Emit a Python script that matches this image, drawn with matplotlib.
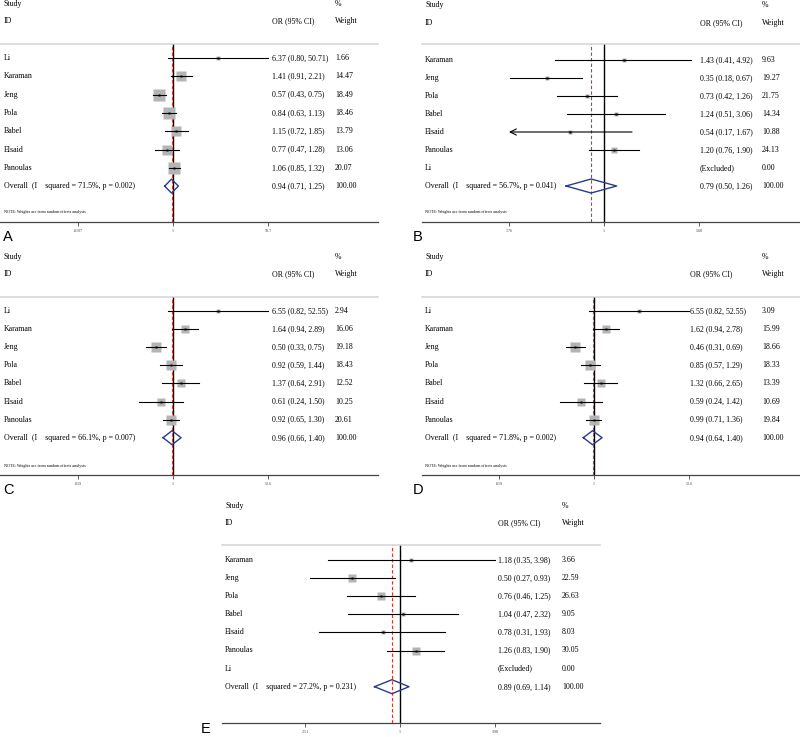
import numpy as np
import matplotlib
matplotlib.use("Agg")
import matplotlib.pyplot as plt
from matplotlib.transforms import blended_transform_factory

plt.rcParams['font.family'] = ['Liberation Serif', 'DejaVu Serif']

# ---- data ----
studies_a = ['Li', 'Karaman', 'Jeng', 'Pola', 'Babel', 'Elsaid', 'Panoulas']
or_a = [6.37, 1.41, 0.57, 0.84, 1.15, 0.77, 1.06]
lo_a = [0.80, 0.91, 0.43, 0.63, 0.72, 0.47, 0.85]
hi_a = [50.71, 2.21, 0.75, 1.13, 1.85, 1.28, 1.32]
w_a = [1.66, 14.47, 18.49, 18.46, 13.79, 13.06, 20.07]
overall_a = (0.94, 0.71, 1.25, '71.5%', '0.002')

studies_b = ['Karaman', 'Jeng', 'Pola', 'Babel', 'Elsaid', 'Panoulas', 'Li']
or_b = [1.43, 0.35, 0.73, 1.24, 0.54, 1.20, None]
lo_b = [0.41, 0.18, 0.42, 0.51, 0.17, 0.76, None]
hi_b = [4.92, 0.67, 1.26, 3.06, 1.67, 1.90, None]
w_b = [9.63, 19.27, 21.75, 14.34, 10.88, 24.13, 0.00]
overall_b = (0.79, 0.50, 1.26, '56.7%', '0.041')

studies_c = ['Li', 'Karaman', 'Jeng', 'Pola', 'Babel', 'Elsaid', 'Panoulas']
or_c = [6.55, 1.64, 0.50, 0.92, 1.37, 0.61, 0.92]
lo_c = [0.82, 0.94, 0.33, 0.59, 0.64, 0.24, 0.65]
hi_c = [52.55, 2.89, 0.75, 1.44, 2.91, 1.50, 1.30]
w_c = [2.94, 16.06, 19.18, 18.43, 12.52, 10.25, 20.61]
overall_c = (0.96, 0.66, 1.40, '66.1%', '0.007')

studies_d = ['Li', 'Karaman', 'Jeng', 'Pola', 'Babel', 'Elsaid', 'Panoulas']
or_d = [6.55, 1.62, 0.46, 0.85, 1.32, 0.59, 0.99]
lo_d = [0.82, 0.94, 0.31, 0.57, 0.66, 0.24, 0.71]
hi_d = [52.55, 2.78, 0.69, 1.29, 2.65, 1.42, 1.36]
w_d = [3.09, 15.99, 18.66, 18.33, 13.39, 10.69, 19.84]
overall_d = (0.94, 0.64, 1.40, '71.8%', '0.002')

studies_e = ['Karaman', 'Jeng', 'Pola', 'Babel', 'Elsaid', 'Panoulas', 'Li']
or_e = [1.18, 0.50, 0.76, 1.04, 0.78, 1.26, None]
lo_e = [0.35, 0.27, 0.46, 0.47, 0.31, 0.83, None]
hi_e = [3.98, 0.93, 1.25, 2.32, 1.93, 1.90, None]
w_e = [3.66, 22.59, 26.63, 9.05, 8.03, 30.05, 0.00]
overall_e = (0.89, 0.69, 1.14, '27.2%', '0.231')

ticks_a = (0.0197, '.0197', 50.7, '50.7')
ticks_b = (0.176, '.176', 5.68, '5.68')
ticks_c = (0.019, '.019', 52.6, '52.6')
ticks_d = (0.019, '.019', 52.6, '52.6')
ticks_e = (0.251, '.251', 3.98, '3.98')

W, H = 800, 737
fig = plt.figure(figsize=(W / 100, H / 100), dpi=100)

GRAY = '#b4b4b4'
NAVY = '#2b3a8e'
RED = '#d8342c'
FS = 5.7


def panel(studies, ors, los, his, ws, overall, ticks, lay):
    left, right, top, bottom = lay['left'], lay['right'], lay['top'], lay['bottom']
    ax = fig.add_axes([left / W, 1 - bottom / H, (right - left) / W, (bottom - top) / H])
    lo_t, lo_lab, hi_t, hi_lab = ticks
    null = lay['null']
    ppd = 95 / np.log10(hi_t)
    ax.set_xscale('log')
    ax.set_xlim(10 ** (-(null - left) / ppd), 10 ** ((right - null) / ppd))
    ax.set_ylim(bottom, top)

    for s in ['left', 'right']:
        ax.spines[s].set_visible(False)
    ax.spines['top'].set_color('#d4d4d4')
    ax.spines['top'].set_linewidth(1.1)
    ax.spines['bottom'].set_color('#444444')
    ax.spines['bottom'].set_linewidth(0.9)
    ax.set_yticks([])
    ax.minorticks_off()
    ax.set_xticks([lo_t, 1, hi_t])
    ax.set_xticklabels([lo_lab, '1', hi_lab])
    ax.tick_params(axis='x', which='major', length=3, width=0.6, color='#444444',
                   labelsize=3, pad=2, labelcolor='#444444')
    ax.tick_params(axis='x', which='minor', length=0)

    tr = blended_transform_factory(ax.transAxes, ax.transData)

    def fx(px):
        return (px - left) / (right - left)

    # null line and overall line
    ax.axvline(1, color='black', lw=1.0, zorder=2)
    ax.axvline(overall[0], color=RED, lw=0.8, ls=(0, (3, 2)), zorder=3)

    k = lay['box']
    n = len(studies)
    for i in range(n):
        y = lay['row0'] + i * lay['rowh']
        ax.text(fx(lay['tx']), y, studies[i], transform=tr, fontsize=FS, va='center', clip_on=False)
        ax.text(fx(lay['ox']), y,
                '(Excluded)' if ors[i] is None else '%.2f (%.2f, %.2f)' % (ors[i], los[i], his[i]),
                transform=tr, fontsize=FS, va='center', clip_on=False)
        ax.text(fx(lay['wx']), y, '%.2f' % ws[i], transform=tr, fontsize=FS, va='center', clip_on=False)
        if ors[i] is None:
            continue
        side = k * np.sqrt(ws[i])
        ax.plot([ors[i]], [y], marker='s', ms=side * 0.72, color=GRAY, mec='none', zorder=4)
        upper = min(his[i], hi_t)
        if los[i] < lo_t:
            ax.annotate('', xy=(lo_t, y), xytext=(upper, y),
                        arrowprops=dict(arrowstyle='->', lw=0.8, color='black',
                                        mutation_scale=11, shrinkA=0, shrinkB=0), zorder=5)
        else:
            ax.plot([los[i], upper], [y, y], color='black', lw=0.8, zorder=5)
        ax.plot([ors[i]], [y], marker='s', ms=2.0, color='black', mec='none', zorder=6)

    # overall diamond
    y = lay['row0'] + n * lay['rowh']
    est, lo, hi, isq, p = overall
    ax.plot([lo, est, hi, est, lo], [y, y - 7, y, y + 7, y], color=NAVY, lw=1.0, zorder=6)
    ax.text(fx(lay['tx']), y, 'Overall  (I    squared = %s, p = %s)' % (isq, p),
            transform=tr, fontsize=FS, va='center', clip_on=False)
    ax.text(fx(lay['ox']), y, '%.2f (%.2f, %.2f)' % (est, lo, hi),
            transform=tr, fontsize=FS, va='center', clip_on=False)
    ax.text(fx(lay['wx']), y, '100.00', transform=tr, fontsize=FS, va='center', clip_on=False)

    # headers
    hy1, hy2 = lay['hy']
    ax.text(fx(lay['tx']), hy1, 'Study', transform=tr, fontsize=FS, va='center', clip_on=False)
    ax.text(fx(lay['wx']), hy1, '%', transform=tr, fontsize=FS, va='center', clip_on=False)
    ax.text(fx(lay['tx']), hy2, 'ID', transform=tr, fontsize=FS, va='center', clip_on=False)
    ax.text(fx(lay['ox']), hy2, 'OR (95% CI)', transform=tr, fontsize=FS, va='center', clip_on=False)
    ax.text(fx(lay['wx']), hy2, 'Weight', transform=tr, fontsize=FS, va='center', clip_on=False)
    if lay.get('note') is not None:
        ax.text(fx(lay['tx']), lay['note'], 'NOTE: Weights are from random effects analysis',
                transform=tr, fontsize=3.0, va='center', clip_on=False)

    fig.text(lay['lx'] / W, 1 - lay['ly'] / H, lay['letter'], fontsize=10.5,
             family='Liberation Sans', ha='center', va='center')


lay_a = dict(left=0, right=378, top=44, bottom=222, null=173, row0=58, rowh=18.3,
             tx=4, ox=272, wx=335, hy=(4, 21), note=212, box=2.7, letter='A', lx=8, ly=237)
lay_b = dict(left=422, right=800, top=44, bottom=222, null=604, row0=60, rowh=18.0,
             tx=425, ox=700, wx=762, hy=(5, 23), note=212, box=1.05, letter='B', lx=418, ly=237)
lay_c = dict(left=0, right=378, top=297, bottom=475, null=173, row0=311, rowh=18.1,
             tx=4, ox=272, wx=335, hy=(257, 274), note=466, box=2.2, letter='C', lx=8, ly=490)
lay_d = dict(left=422, right=800, top=297, bottom=475, null=594, row0=311, rowh=18.1,
             tx=425, ox=690, wx=762, hy=(257, 274), note=466, box=2.2, letter='D', lx=418, ly=490)
lay_e = dict(left=222, right=600, top=545, bottom=723, null=400, row0=560, rowh=18.1,
             tx=225, ox=498, wx=562, hy=(506, 523), note=None, box=1.6, letter='E', lx=206, ly=729)

panel(studies_a, or_a, lo_a, hi_a, w_a, overall_a, ticks_a, lay_a)
panel(studies_b, or_b, lo_b, hi_b, w_b, overall_b, ticks_b, lay_b)
panel(studies_c, or_c, lo_c, hi_c, w_c, overall_c, ticks_c, lay_c)
panel(studies_d, or_d, lo_d, hi_d, w_d, overall_d, ticks_d, lay_d)
panel(studies_e, or_e, lo_e, hi_e, w_e, overall_e, ticks_e, lay_e)

fig.savefig('out.png', dpi=100, facecolor='white')
